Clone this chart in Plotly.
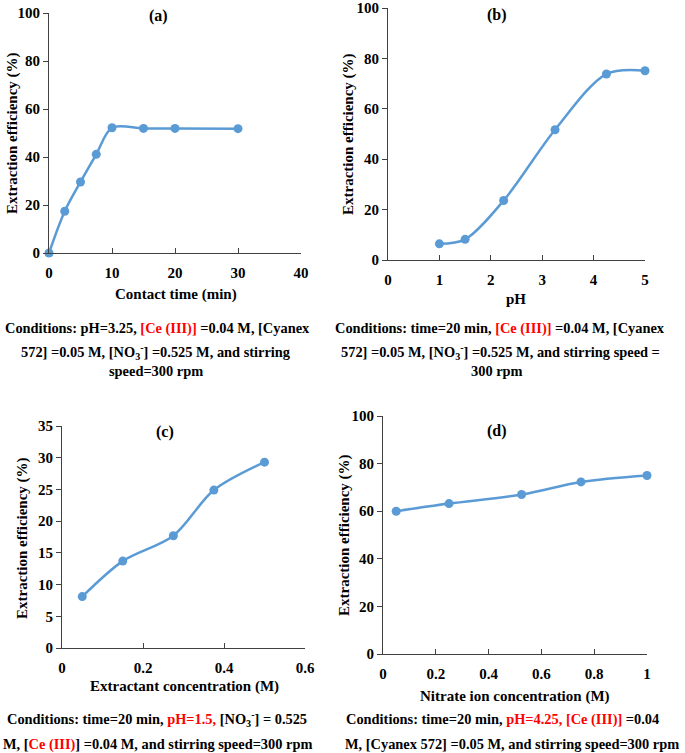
import plotly.graph_objects as go

# ---------------- data ----------------
time_min = [0, 2.5, 5, 7.5, 10, 15, 20, 30]
eff_time = [0, 17.4, 29.6, 41.1, 52.2, 51.9, 51.9, 51.8]

ph = [1, 1.5, 2.25, 3.25, 4.25, 5]
eff_ph = [6.4, 8.2, 23.6, 51.7, 73.8, 75.1]

extractant = [0.05, 0.15, 0.275, 0.375, 0.5]
eff_extr = [8.1, 13.7, 17.7, 24.9, 29.3]

nitrate = [0.05, 0.25, 0.525, 0.75, 1.0]
eff_nitrate = [60.0, 63.2, 67.0, 72.3, 75.0]

panel_labels = ["(a)", "(b)", "(c)", "(d)"]
x_titles = ["Contact time (min)", "pH", "Extractant concentration (M)", "Nitrate ion concentration (M)"]
y_title = "Extraction efficiency (%)"

RED = "#FF0000"
NO3 = "[NO<sub>3</sub><sup>-</sup>]"
cond_a = [
    f"Conditions: pH=3.25, <span style='color:{RED}'>[Ce (III)]</span> =0.04 M, [Cyanex",
    f"572] =0.05 M, {NO3} =0.525 M, and stirring",
    "speed=300 rpm",
]
cond_b = [
    f"Conditions: time=20 min, <span style='color:{RED}'>[Ce (III)]</span> =0.04 M, [Cyanex",
    f"572] =0.05 M, {NO3} =0.525 M, and stirring speed =",
    "300 rpm",
]
cond_c = [
    f"Conditions: time=20 min, <span style='color:{RED}'>pH=1.5,</span> {NO3} = 0.525",
    f"M, [<span style='color:{RED}'>Ce (III)</span>] =0.04 M, and stirring speed=300 rpm",
]
cond_d = [
    f"Conditions: time=20 min, <span style='color:{RED}'>pH=4.25, [Ce (III)]</span> =0.04",
    "M, [Cyanex 572] =0.05 M, and stirring speed=300 rpm",
]

# ---------------- layout helpers ----------------
W, H = 685, 753
FONT = "Liberation Serif, Times New Roman, serif"
BLUE = "#5B9BD5"
AX = "#404040"
FS = 15
FS_COND = 14.4


def px_x(p):
    return p / W


def px_y(p):
    return 1 - p / H


fig = go.Figure()

series = [
    (time_min, eff_time),
    (ph, eff_ph),
    (extractant, eff_extr),
    (nitrate, eff_nitrate),
]

# plot-area boxes in pixels: left, right, top, bottom
boxes = [
    (49, 301, 13, 253),
    (388, 645, 8, 260),
    (62, 305, 426, 648),
    (383, 647, 416, 654),
]
x_ranges = [(0, 40, 10), (0, 5, 1), (0, 0.6, 0.2), (0, 1, 0.2)]
y_ranges = [(0, 100, 20), (0, 100, 20), (0, 35, 5), (0, 100, 20)]

for i, (xs, ys) in enumerate(series):
    n = "" if i == 0 else str(i + 1)
    fig.add_trace(go.Scatter(
        x=xs, y=ys, mode="lines+markers",
        line=dict(color=BLUE, width=2.5, shape="spline", smoothing=0.9),
        marker=dict(color=BLUE, size=9),
        cliponaxis=False, showlegend=False,
        xaxis="x" + n, yaxis="y" + n,
    ))
    l, r, t, b = boxes[i]
    x0, x1, dx = x_ranges[i]
    y0, y1, dy = y_ranges[i]
    tickfont = dict(family=FONT, size=FS, color="black", weight="bold")
    fig.layout["xaxis" + n] = dict(
        domain=[px_x(l), px_x(r)], anchor="y" + n,
        range=[x0, x1], dtick=dx, tick0=0,
        showgrid=False, zeroline=False,
        showline=True, linecolor=AX, linewidth=1,
        ticks="inside", ticklen=5, tickcolor=AX,
        tickfont=tickfont, ticklabelstandoff=6,
    )
    fig.layout["yaxis" + n] = dict(
        domain=[px_y(b), px_y(t)], anchor="x" + n,
        range=[y0, y1], dtick=dy, tick0=0,
        showgrid=False, zeroline=False,
        showline=True, linecolor=AX, linewidth=1,
        ticks="outside", ticklen=5, tickcolor=AX,
        tickfont=tickfont, ticklabelstandoff=0,
    )

ann = []
text_font = dict(family=FONT, size=FS, color="black", weight="bold")
cond_font = dict(family=FONT, size=FS_COND, color="black", weight="bold")

# panel labels
label_pos = [(158, 16), (497, 15), (165, 432), (497, 431)]
for lab, (x, y) in zip(panel_labels, label_pos):
    ann.append(dict(text=lab, x=px_x(x), y=px_y(y), xref="paper", yref="paper",
                    showarrow=False, xanchor="center", yanchor="middle",
                    font=dict(family=FONT, size=16, color="black", weight="bold")))

# x titles
xt_pos = [(176, 294), (516, 299), (184, 686), (515, 696)]
for t, (x, y) in zip(x_titles, xt_pos):
    ann.append(dict(text=t, x=px_x(x), y=px_y(y), xref="paper", yref="paper",
                    showarrow=False, xanchor="center", yanchor="middle", font=text_font))

# y titles
yt_pos = [(12, 133), (348, 134), (22, 538), (344, 535)]
for (x, y) in yt_pos:
    ann.append(dict(text=y_title, x=px_x(x), y=px_y(y), xref="paper", yref="paper",
                    showarrow=False, xanchor="center", yanchor="middle", textangle=-90,
                    font=text_font))

# conditions text
cond_specs = [
    (cond_a, [157, 156, 156], [328, 352, 371]),
    (cond_b, [500, 500, 497], [328, 352, 371]),
    (cond_c, [157, 157], [719, 744]),
    (cond_d, [502, 512], [719, 744]),
]
for lines, xs, ys in cond_specs:
    for line, x, y in zip(lines, xs, ys):
        ann.append(dict(text=line, x=px_x(x), y=px_y(y), xref="paper", yref="paper",
                        showarrow=False, xanchor="center", yanchor="middle", font=cond_font))

fig.update_layout(
    width=W, height=H,
    margin=dict(l=0, r=0, t=0, b=0, autoexpand=False),
    paper_bgcolor="white", plot_bgcolor="white",
    font=dict(family=FONT, size=FS, color="black"),
    annotations=ann,
)

fig.write_html(
    "out.html",
    config={"displayModeBar": False},
    post_script="document.body.style.margin='0';document.body.style.padding='0';",
)
